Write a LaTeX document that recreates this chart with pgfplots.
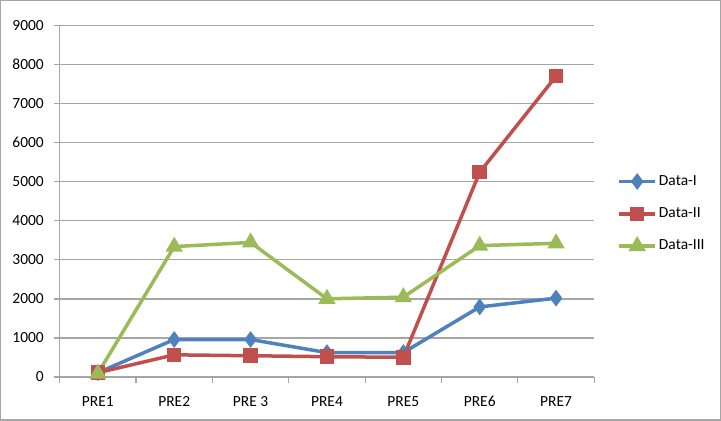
\documentclass[border=0pt]{standalone}
\usepackage{pgfplots}
\pgfplotsset{compat=1.18}
\usepackage{fontspec}
\setmainfont{Carlito}
\definecolor{cI}{HTML}{4F81BD}
\definecolor{cII}{HTML}{C0504D}
\definecolor{cIII}{HTML}{9BBB59}
\definecolor{gridc}{HTML}{A6A6A6}
\begin{document}
\fontsize{15.5}{18}\selectfont
\begin{tikzpicture}
\begin{axis}[
  scale only axis,
  width=534bp, height=351bp,
  xmin=-0.5, xmax=6.5,
  ymin=0, ymax=9000,
  xtick={0,...,6},
  xticklabels={PRE1,PRE2,PRE 3,PRE4,PRE5,PRE6,PRE7},
  minor xtick={-0.5,0.5,...,6.5},
  ytick={0,1000,2000,3000,4000,5000,6000,7000,8000,9000},
  yticklabels={0,1000,2000,3000,4000,5000,6000,7000,8000,9000},
  axis x line*=bottom, axis y line*=left,
  axis line style={draw=gridc, line width=1.2bp, -},
  tick align=outside,
  major tick length=6bp, minor tick length=6bp,
  major x tick style={draw=none},
  minor x tick style={draw=gridc, line width=1.2bp},
  major y tick style={draw=gridc, line width=1.2bp},
  ymajorgrids,
  grid style={draw=gridc, line width=1.2bp},
  every tick label/.append style={font=\fontsize{15.5}{18}\selectfont, text=black},
  every y tick label/.append style={xshift=-4.5bp},
  every x tick label/.append style={yshift=-8bp},
  clip=false,
  legend cell align=left,
  legend style={draw=none, fill=none, at={(rel axis cs:1.043,0.58)}, anchor=north west,
    font=\fontsize{15.5}{18}\selectfont, inner sep=0pt, row sep=16bp},
  legend image code/.code={\draw[mark repeat=2,mark phase=2] plot coordinates {(0bp,0bp) (18bp,0bp) (36bp,0bp)};},
]
\addplot[cI, line width=3.5bp, mark=diamond*, mark size=5.5bp, mark options={solid}]
  coordinates {(0,110) (1,960) (2,960) (3,625) (4,625) (5,1795) (6,2020)};
\addlegendentry{Data-I}
\addplot[cII, line width=3.5bp, mark=square*, mark size=5.5bp]
  coordinates {(0,110) (1,568) (2,545) (3,520) (4,505) (5,5245) (6,7705)};
\addlegendentry{Data-II}
\addplot[cIII, line width=3.5bp, mark=triangle*, mark size=6.5bp]
  coordinates {(0,90) (1,3340) (2,3447) (3,2003) (4,2045) (5,3365) (6,3425)};
\addlegendentry{Data-III}
\end{axis}
\draw[gridc, line width=1.2bp] ([shift={(-59bp,-43bp)}]current axis.south west) rectangle ([shift={(126bp,25bp)}]current axis.north east);
\end{tikzpicture}
\end{document}
